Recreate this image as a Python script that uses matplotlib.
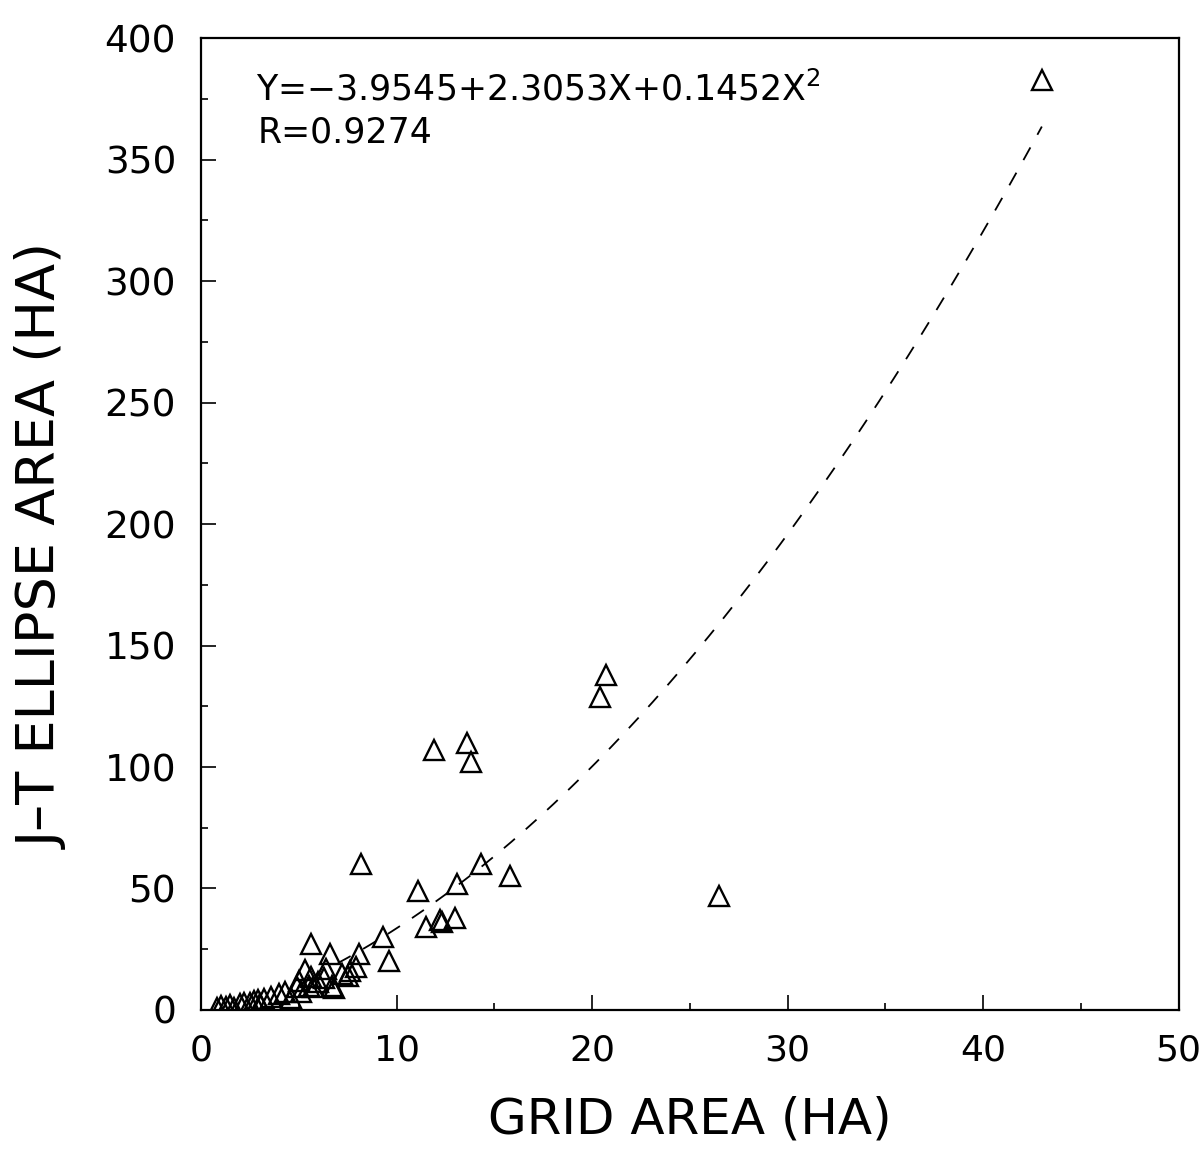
import numpy as np
import matplotlib
matplotlib.use("Agg")
import matplotlib.pyplot as plt
from matplotlib.ticker import MultipleLocator

# Grid-cell area vs. Jennrich-Turner ellipse area (hectares)
grid_area = [0.8, 1.0, 1.3, 1.5, 1.7,
             2.0, 2.2, 2.5, 2.7, 2.9, 3.0, 3.2,
             3.6, 4.0, 4.3, 4.6, 4.9,
             5.0, 5.1, 5.5, 5.6, 5.3, 5.7,
             6.0, 6.3, 6.4, 6.7, 6.8,
             7.2, 7.5, 7.6, 7.9,
             5.6, 6.6, 8.1, 8.2, 9.3, 9.6, 11.1, 11.5, 12.2, 12.3,
             13.0, 13.1, 14.3, 15.8,
             11.9, 13.6, 13.8, 20.4, 20.7, 26.5, 43.0]
ellipse_area = [1.0, 1.5, 1.2, 2.0, 1.0,
                2.5, 3.0, 2.8, 3.5, 4.0, 2.5, 4.5,
                5.5, 6.5, 7.5, 5.0, 9.5,
                12.0, 7.5, 10.0, 13.5, 16.5, 9.5,
                11.5, 13.0, 17.0, 10.0, 9.0,
                15.0, 14.0, 16.0, 17.5,
                27.0, 23.0, 23.0, 60.0, 30.0, 20.0, 49.0, 34.0, 37.0, 36.0,
                38.0, 52.0, 60.0, 55.0,
                107.0, 110.0, 102.0, 129.0, 138.0, 47.0, 383.0]

# Quadratic regression coefficients
b0, b1, b2 = -3.9545, 2.3053, 0.1452
fit_range = (7.0, 43.0)

x_ticks = [0, 10, 20, 30, 40, 50]
y_ticks = [0, 50, 100, 150, 200, 250, 300, 350, 400]

plt.rcParams["font.family"] = ["DejaVu Sans"]

fig = plt.figure(figsize=(12.04, 11.59), dpi=100)
ax = fig.add_axes([0.167, 0.1286, 0.812, 0.8384])

xs = np.linspace(fit_range[0], fit_range[1], 200)
ax.plot(xs, b0 + b1 * xs + b2 * xs ** 2, color="black", lw=1.3,
        linestyle=(0, (8, 8)))

ax.plot(grid_area, ellipse_area, linestyle="none", marker="^", markersize=14,
        markerfacecolor="none", markeredgecolor="black", markeredgewidth=1.7)

ax.set_xlim(0, 50)
ax.set_ylim(0, 400)
ax.set_xticks(x_ticks)
ax.set_yticks(y_ticks)
ax.xaxis.set_minor_locator(MultipleLocator(5))
ax.yaxis.set_minor_locator(MultipleLocator(25))
ax.tick_params(which="both", direction="in", top=False, right=False, width=1.2)
ax.tick_params(which="major", length=11)
ax.tick_params(which="minor", length=5)
ax.tick_params(axis="y", pad=18, labelsize=27)
ax.tick_params(axis="x", pad=17, labelsize=26)

for sp in ax.spines.values():
    sp.set_linewidth(1.6)

ax.set_xlabel("GRID AREA (HA)", fontsize=36, labelpad=20)
ax.set_ylabel("J–T ELLIPSE AREA (HA)", fontsize=39)
ax.yaxis.set_label_coords(-0.135, 0.477)

ax.text(0.056, 0.936, r"Y=$-$3.9545+2.3053X+0.1452X$^{2}$", transform=ax.transAxes,
        fontsize=25, va="baseline", ha="left")
ax.text(0.058, 0.893, "R=0.9274", transform=ax.transAxes,
        fontsize=25, va="baseline", ha="left")

fig.savefig("out.png", dpi=100)
